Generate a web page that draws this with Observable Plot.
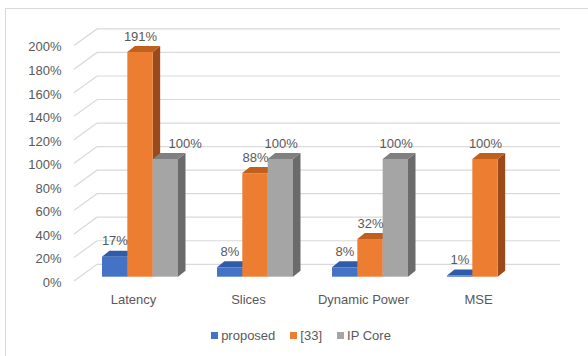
<!DOCTYPE html>
<html>
<head>
<meta charset="utf-8">
<script src="https://cdn.jsdelivr.net/npm/d3@7"></script>
<script src="https://cdn.jsdelivr.net/npm/@observablehq/plot@0.6"></script>
<style>
  body { margin: 0; background: #fff; }
  #wrap { position: relative; width: 588px; height: 356px; overflow: hidden; font-family: "Liberation Sans", Arial, sans-serif; color: #595959; }
  #frame { position: absolute; left: 5px; top: 8px; right: -4px; bottom: -4px; border-left: 1px solid #d9d9d9; border-top: 1px solid #d9d9d9; }
  #chart { position: absolute; left: 0; top: 0; }
  #legend { position: absolute; left: 0; top: 326px; width: 588px; height: 18px; display: flex; justify-content: center; align-items: center; padding-left: 14px; box-sizing: border-box; font-size: 13px; }
  .item { display: flex; align-items: center; margin: 0 7.5px; }
  .sw { width: 7px; height: 7px; margin-right: 3px; }
</style>
</head>
<body>
<div id="wrap">
  <div id="frame"></div>
  <div id="chart"></div>
  <div id="legend"></div>
</div>
<script>
// ---- data ----
const categories = ["Latency", "Slices", "Dynamic Power", "MSE"];
const seriesNames = ["proposed", "[33]", "IP Core"];
const proposed = [17, 8, 8, 1];
const ref33 = [191, 88, 32, 100];
const ipCore = [100, 100, 100, null];
const yTicks = [0, 20, 40, 60, 80, 100, 120, 140, 160, 180, 200];

// ---- styles ----
const frontColors = ["#4472C4", "#ED7D31", "#A5A5A5"];
const topColors = ["#2F5BA8", "#C0601F", "#808080"];
const sideColors = ["#284C8C", "#9B4A1A", "#6B6B6B"];
const BAR_DX = 7.5, BAR_DY = -6;          // bar depth projection
const SIDE_LEFT = 74, BACK_LEFT = 97, BACK_RIGHT = 560;
const FRONT_DY = 4.3, BACK_DY = -12.4;    // wall planes relative to bar plane

const seriesValues = [proposed, ref33, ipCore];
const rows = [];
categories.forEach((c, i) => {
  seriesValues.forEach((vals, s) => {
    if (vals[i] != null) rows.push({category: c, s, value: vals[i], prev: s > 0 ? seriesValues[s - 1][i] : null});
  });
});

function walls(index, scales) {
  const {y} = scales;
  const g = d3.create("svg:g").attr("stroke", "#d9d9d9").attr("stroke-width", 1.2).attr("fill", "none");
  for (const t of yTicks) {
    const yy = y(t);
    g.append("path").attr("d", `M${SIDE_LEFT},${yy + FRONT_DY}L${BACK_LEFT},${yy + BACK_DY}L${BACK_RIGHT},${yy + BACK_DY}`);
  }
  return g.node();
}

function bars3d(index, scales) {
  const {x, y} = scales;
  const bw = x.bandwidth() / seriesNames.length;
  const g = d3.create("svg:g");
  const y0 = y(0);
  for (const d of rows) {
    const x0 = x(d.category) + d.s * bw, x1 = x0 + bw, yv = y(d.value);
    g.append("path").attr("fill", sideColors[d.s])
      .attr("d", `M${x1},${yv}L${x1 + BAR_DX},${yv + BAR_DY}L${x1 + BAR_DX},${y0 + BAR_DY}L${x1},${y0}Z`);
    g.append("path").attr("fill", topColors[d.s])
      .attr("d", `M${x0},${yv}L${x1},${yv}L${x1 + BAR_DX},${yv + BAR_DY}L${x0 + BAR_DX},${yv + BAR_DY}Z`);
    g.append("rect").attr("fill", frontColors[d.s])
      .attr("x", x0).attr("y", yv).attr("width", bw).attr("height", y0 - yv);
  }
  return g.node();
}

const subStep = 25.6;
const labelMarks = [];
seriesNames.forEach((name, s) => {
  const normal = rows.filter(d => d.s === s && !(d.prev != null && d.prev > d.value));
  const nudged = rows.filter(d => d.s === s && d.prev != null && d.prev > d.value);
  labelMarks.push(Plot.text(normal, {x: "category", y: "value", text: d => d.value + "%", dx: (s - 1) * subStep, dy: -16}));
  if (nudged.length) labelMarks.push(Plot.text(nudged, {x: "category", y: "value", text: d => d.value + "%", dx: (s - 1) * subStep + 19, dy: -16}));
});

const chart = Plot.plot({
  width: 588,
  height: 320,
  marginLeft: 62,
  marginRight: 24,
  marginTop: 41.3,
  marginBottom: 43.3,
  style: {fontFamily: "'Liberation Sans', Arial, sans-serif", fontSize: "13px", color: "#595959", background: "transparent"},
  x: {type: "band", domain: categories, padding: 0.336},
  y: {domain: [0, 200]},
  marks: [
    walls,
    bars3d,
    ...labelMarks,
    Plot.axisY({ticks: yTicks, tickSize: 0, tickPadding: 1, tickFormat: d => d + "%", dy: 5.5, label: null}),
    Plot.axisX({tickSize: 0, tickPadding: 17.5, dx: -7, label: null})
  ]
});
document.getElementById("chart").appendChild(chart);

const legend = d3.select("#legend");
seriesNames.forEach((name, s) => {
  const it = legend.append("div").attr("class", "item");
  it.append("div").attr("class", "sw").style("background", frontColors[s]);
  it.append("span").text(name);
});
</script>
</body>
</html>
